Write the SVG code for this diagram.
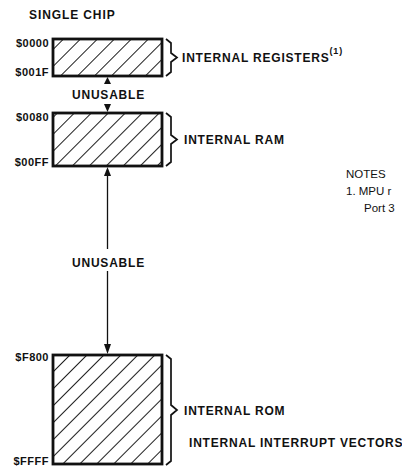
<svg xmlns="http://www.w3.org/2000/svg" width="402" height="467" viewBox="0 0 402 467">
<style>
.b{font-family:"Liberation Sans",Arial,sans-serif;font-weight:bold;fill:#111;}
.lbl{font-size:12px;letter-spacing:0.8px;}
.addr{font-size:11px;text-anchor:end;letter-spacing:0.5px;}
.n{font-family:"Liberation Sans",Arial,sans-serif;font-size:11.5px;fill:#111;}
.box{fill:url(#hatch);stroke:#111;stroke-width:2.8;}
.brace{fill:none;stroke:#111;stroke-width:1.7;stroke-linejoin:miter;}
.ln{stroke:#111;stroke-width:1.3;fill:none;}
.ah{fill:#111;}
</style>
<defs>
<pattern id="hatch" width="12" height="12" patternUnits="userSpaceOnUse" patternTransform="rotate(45)">
<line x1="0" y1="-1" x2="0" y2="13" stroke="#111" stroke-width="1.9"/>
</pattern>
</defs>
<text class="b" x="29" y="19" font-size="12" letter-spacing="0.9">SINGLE CHIP</text>
<g id="registers">
<rect class="box" x="53" y="39" width="109" height="37"/>
<text class="b addr" x="49" y="47">$0000</text>
<text class="b addr" x="49" y="76">$001F</text>
<path class="brace" d="M166,39 L171,43 L171,53 L177,57.5 L171,62 L171,72 L166,76"/>
<text class="b lbl" x="182" y="62">INTERNAL REGISTERS<tspan font-size="9" dy="-8">(1)</tspan></text>
</g>
<g id="ram">
<rect class="box" x="53" y="113" width="109" height="53"/>
<text class="b addr" x="49" y="121">$0080</text>
<text class="b addr" x="49" y="166">$00FF</text>
<path class="brace" d="M166,113 L171,117 L171,135 L177,139.5 L171,144 L171,162 L166,166"/>
<text class="b lbl" x="184" y="144">INTERNAL RAM</text>
</g>
<g id="rom">
<rect class="box" x="53" y="355" width="109" height="109"/>
<text class="b addr" x="49" y="361">$F800</text>
<text class="b addr" x="49" y="465">$FFFF</text>
<path class="brace" d="M166,355 L171,359 L171,405 L177,410 L171,415 L171,461 L166,465"/>
<text class="b lbl" x="184" y="415">INTERNAL ROM</text>
<text class="b lbl" x="189" y="447">INTERNAL INTERRUPT VECTORS</text>
</g>
<g id="connectors">
<path class="ah" d="M107.5,77 L111,84 L104,84 Z"/>
<text class="b lbl" x="108.5" y="99" text-anchor="middle">UNUSABLE</text>
<path class="ah" d="M104,104 L111,104 L107.5,112 Z"/>
<line class="ln" x1="107.5" y1="176" x2="107.5" y2="249"/>
<path class="ah" d="M107.5,167 L111,176 L104,176 Z"/>
<text class="b lbl" x="108.5" y="267" text-anchor="middle">UNUSABLE</text>
<line class="ln" x1="107.5" y1="271" x2="107.5" y2="346"/>
<path class="ah" d="M104,344 L111,344 L107.5,354 Z"/>
</g>
<g id="notes">
<text class="n" x="346" y="178">NOTES</text>
<text class="n" x="346" y="195">1.  MPU r</text>
<text class="n" x="364" y="212">Port 3</text>
</g>
</svg>
